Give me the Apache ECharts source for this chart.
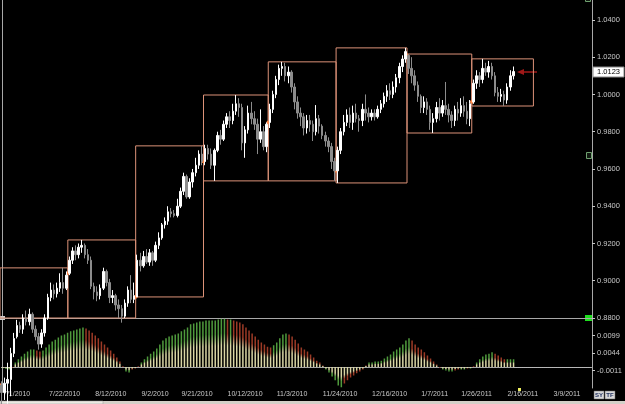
<!DOCTYPE html>
<html>
<head>
<meta charset="UTF-8">
<title>AUD/USD daily</title>
<script src="https://cdn.jsdelivr.net/npm/echarts/dist/echarts.min.js"></script>
<style>
  html, body { margin: 0; padding: 0; background: #000; }
  #chart { width: 625px; height: 404px; }
</style>
</head>
<body>
<div id="chart"></div>
<script>
// x categories: trading days (weekdays) 7/1/2010 .. 3/25/2011
const dates = [];
(function () {
  const d = new Date(2010, 6, 1);
  const end = new Date(2011, 2, 25);
  while (d <= end) {
    const wd = d.getDay();
    if (wd !== 0 && wd !== 6) dates.push((d.getMonth() + 1) + '/' + d.getDate() + '/' + d.getFullYear());
    d.setDate(d.getDate() + 1);
  }
})();

const tickLabels = ['7/1/2010', '7/22/2010', '8/12/2010', '9/2/2010', '9/21/2010', '10/12/2010',
  '11/3/2010', '11/24/2010', '12/16/2010', '1/7/2011', '1/26/2011', '2/16/2011', '3/9/2011'];

// monthly range boxes: first day of each month, last box ends at 2/28/2011
const monthStarts = ['7/1/2010', '8/2/2010', '9/1/2010', '10/1/2010', '11/1/2010', '12/1/2010', '1/3/2011', '2/1/2011'];
const lastBoxEnd = '2/28/2011';

// daily bars: [open, close, low, high]
const ohlc = [
  [0.8440,0.8400,0.8316,0.8460],[0.8400,0.8450,0.8360,0.8480],[0.8450,0.8470,0.8340,0.8560],[0.8470,0.8610,0.8380,0.8640],
  [0.8610,0.8690,0.8590,0.8720],[0.8700,0.8760,0.8690,0.8790],[0.8760,0.8740,0.8720,0.8780],[0.8740,0.8800,0.8715,0.8820],
  [0.8800,0.8780,0.8760,0.8840],[0.8780,0.8820,0.8760,0.8850],[0.8820,0.8740,0.8720,0.8830],[0.8740,0.8700,0.8680,0.8760],
  [0.8700,0.8660,0.8630,0.8720],[0.8660,0.8720,0.8640,0.8740],[0.8720,0.8800,0.8700,0.8820],[0.8800,0.8910,0.8790,0.8930],
  [0.8910,0.8950,0.8890,0.8990],[0.8950,0.8930,0.8900,0.8980],[0.8930,0.8960,0.8910,0.8990],[0.8960,0.8990,0.8940,0.9040],
  [0.8990,0.8960,0.8930,0.9069],[0.8960,0.9030,0.8950,0.9050],
  [0.9040,0.9110,0.9030,0.9130],[0.9110,0.9160,0.9090,0.9180],[0.9160,0.9140,0.9110,0.9190],[0.9140,0.9180,0.9120,0.9200],
  [0.9180,0.9190,0.9150,0.9219],[0.9190,0.9140,0.9120,0.9200],[0.9140,0.9110,0.9090,0.9170],[0.9110,0.8970,0.8955,0.9130],
  [0.8970,0.8940,0.8900,0.8990],[0.8940,0.8920,0.8890,0.8970],[0.8920,0.8960,0.8900,0.8980],[0.8960,0.9050,0.8950,0.9070],
  [0.9050,0.8990,0.8970,0.9060],[0.8990,0.8910,0.8880,0.9010],[0.8910,0.8920,0.8880,0.8950],[0.8920,0.8870,0.8840,0.8930],
  [0.8870,0.8850,0.8800,0.8900],[0.8850,0.8810,0.8775,0.8870],[0.8810,0.8880,0.8800,0.8900],[0.8880,0.8950,0.8860,0.8970],
  [0.8950,0.8900,0.8880,0.9030],[0.8900,0.8920,0.8880,0.8990],
  [0.8913,0.9110,0.8913,0.9140],[0.9110,0.9080,0.9050,0.9150],[0.9080,0.9130,0.9070,0.9160],[0.9130,0.9100,0.9090,0.9170],
  [0.9100,0.9150,0.9080,0.9170],[0.9150,0.9110,0.9080,0.9160],[0.9110,0.9190,0.9100,0.9210],[0.9190,0.9230,0.9170,0.9260],
  [0.9230,0.9300,0.9220,0.9310],[0.9300,0.9320,0.9280,0.9340],[0.9320,0.9370,0.9300,0.9400],[0.9370,0.9360,0.9340,0.9390],
  [0.9360,0.9350,0.9340,0.9380],[0.9350,0.9400,0.9340,0.9440],[0.9400,0.9480,0.9390,0.9500],[0.9480,0.9560,0.9460,0.9580],
  [0.9560,0.9450,0.9440,0.9570],[0.9450,0.9530,0.9440,0.9550],[0.9530,0.9580,0.9500,0.9600],[0.9580,0.9620,0.9560,0.9660],
  [0.9620,0.9680,0.9600,0.9700],[0.9680,0.9640,0.9620,0.9724],
  [0.9640,0.9710,0.9620,0.9730],[0.9710,0.9680,0.9650,0.9730],[0.9680,0.9620,0.9600,0.9710],[0.9620,0.9700,0.9536,0.9710],
  [0.9700,0.9780,0.9690,0.9800],[0.9780,0.9760,0.9730,0.9810],[0.9760,0.9840,0.9750,0.9860],[0.9840,0.9880,0.9820,0.9900],
  [0.9880,0.9860,0.9820,0.9910],[0.9860,0.9910,0.9840,0.9950],[0.9910,0.9950,0.9890,0.9997],[0.9950,0.9930,0.9880,0.9980],
  [0.9930,0.9740,0.9700,0.9950],[0.9740,0.9810,0.9660,0.9830],[0.9810,0.9900,0.9790,0.9940],[0.9900,0.9870,0.9840,0.9960],
  [0.9870,0.9840,0.9810,0.9910],[0.9840,0.9760,0.9680,0.9870],[0.9760,0.9800,0.9740,0.9920],[0.9800,0.9720,0.9700,0.9830],
  [0.9720,0.9840,0.9690,0.9850],
  [0.9850,0.9920,0.9820,0.9950],[0.9920,1.0000,0.9900,1.0020],[1.0000,1.0080,0.9980,1.0100],[1.0080,1.0140,1.0050,1.0160],
  [1.0140,1.0150,1.0100,1.0175],[1.0150,1.0100,1.0070,1.0170],[1.0100,1.0120,1.0060,1.0150],[1.0120,1.0040,1.0010,1.0130],
  [1.0040,0.9960,0.9920,1.0060],[0.9960,0.9900,0.9870,0.9990],[0.9900,0.9880,0.9830,0.9930],[0.9880,0.9820,0.9780,0.9900],
  [0.9820,0.9860,0.9790,0.9890],[0.9860,0.9840,0.9800,0.9890],[0.9840,0.9800,0.9750,0.9860],[0.9800,0.9870,0.9780,0.9943],
  [0.9870,0.9830,0.9790,0.9890],[0.9830,0.9780,0.9760,0.9840],[0.9780,0.9750,0.9720,0.9800],[0.9750,0.9720,0.9690,0.9770],
  [0.9720,0.9640,0.9600,0.9740],[0.9640,0.9590,0.9536,0.9660],
  [0.9590,0.9700,0.9525,0.9720],[0.9700,0.9800,0.9680,0.9820],[0.9800,0.9850,0.9780,0.9890],[0.9850,0.9890,0.9830,0.9920],
  [0.9890,0.9850,0.9820,0.9930],[0.9850,0.9900,0.9810,0.9940],[0.9900,0.9870,0.9850,0.9950],[0.9870,0.9860,0.9800,0.9890],
  [0.9860,0.9920,0.9830,0.9950],[0.9920,0.9900,0.9860,1.0000],[0.9900,0.9880,0.9850,0.9930],[0.9880,0.9900,0.9860,0.9920],
  [0.9900,0.9880,0.9860,0.9920],[0.9880,0.9920,0.9870,0.9940],[0.9920,0.9950,0.9900,0.9970],[0.9950,0.9990,0.9930,1.0010],
  [0.9990,1.0020,0.9960,1.0050],[1.0020,1.0000,0.9970,1.0060],[1.0000,1.0040,0.9980,1.0070],[1.0040,1.0090,1.0010,1.0110],
  [1.0090,1.0150,1.0060,1.0170],[1.0150,1.0190,1.0120,1.0210],[1.0190,1.0230,1.0170,1.0250],
  [1.0210,1.0140,1.0110,1.0217],[1.0140,1.0100,1.0060,1.0200],[1.0100,1.0050,1.0020,1.0130],[1.0050,0.9990,0.9960,1.0070],
  [0.9990,0.9930,0.9900,1.0000],[0.9930,0.9960,0.9900,0.9990],[0.9960,0.9920,0.9890,0.9980],[0.9920,0.9850,0.9810,0.9940],
  [0.9850,0.9870,0.9793,0.9900],[0.9870,0.9930,0.9850,0.9960],[0.9930,0.9900,0.9860,0.9980],[0.9900,0.9940,0.9880,0.9970],
  [0.9940,0.9920,0.9890,1.0067],[0.9920,0.9890,0.9850,0.9950],[0.9890,0.9860,0.9820,0.9910],[0.9860,0.9920,0.9830,0.9940],
  [0.9920,0.9900,0.9860,0.9960],[0.9900,0.9940,0.9880,0.9980],[0.9940,0.9910,0.9880,0.9990],[0.9910,0.9870,0.9840,0.9960],
  [0.9870,0.9950,0.9830,0.9970],
  [0.9960,1.0060,0.9950,1.0080],[1.0060,1.0100,1.0030,1.0130],[1.0100,1.0080,1.0040,1.0120],[1.0080,1.0140,1.0060,1.0191],
  [1.0140,1.0120,1.0100,1.0170],[1.0120,1.0150,1.0090,1.0180],[1.0150,1.0100,1.0080,1.0170],[1.0100,1.0010,0.9990,1.0120],
  [1.0010,0.9990,0.9960,1.0040],[0.9990,1.0000,0.9960,1.0030],[1.0000,0.9970,0.9938,1.0020],[0.9970,1.0040,0.9950,1.0060],
  [1.0040,1.0100,1.0020,1.0130],[1.0100,1.0123,1.0080,1.0150]
];

// oscillator histogram (lower panel)
const hist = [
  -0.0004,-0.0006,-0.0008,-0.0002,0.0014,0.0024,0.0033,0.0042,0.0049,0.0055,0.0055,0.0052,0.0049,0.0052,0.0061,0.0071,
  0.0080,0.0086,0.0093,0.0099,0.0102,0.0108,0.0112,0.0115,0.0118,0.0121,0.0124,0.0121,0.0115,0.0108,0.0099,0.0090,
  0.0080,0.0071,0.0061,0.0052,0.0042,0.0030,0.0017,0.0002,-0.0014,-0.0017,-0.0008,-0.0005,0.0002,0.0014,0.0024,0.0033,
  0.0042,0.0049,0.0058,0.0071,0.0083,0.0090,0.0096,0.0099,0.0102,0.0105,0.0112,0.0118,0.0124,0.0134,0.0137,0.0140,
  0.0143,0.0143,0.0146,0.0146,0.0146,0.0146,0.0149,0.0152,0.0152,0.0149,0.0149,0.0146,0.0143,0.0140,0.0134,0.0124,
  0.0115,0.0105,0.0096,0.0086,0.0077,0.0071,0.0064,0.0061,0.0068,0.0077,0.0090,0.0102,0.0105,0.0102,0.0096,0.0086,
  0.0074,0.0061,0.0055,0.0049,0.0039,0.0030,0.0020,0.0014,0.0005,-0.0008,-0.0017,-0.0030,-0.0042,-0.0058,-0.0064,-0.0052,
  -0.0042,-0.0033,-0.0027,-0.0020,-0.0014,-0.0008,0.0005,0.0014,0.0014,0.0017,0.0017,0.0020,0.0027,0.0033,0.0039,0.0049,
  0.0055,0.0061,0.0071,0.0083,0.0090,0.0083,0.0071,0.0061,0.0055,0.0046,0.0036,0.0027,0.0017,0.0008,-0.0002,-0.0008,
  -0.0011,-0.0014,-0.0014,-0.0011,-0.0008,-0.0008,-0.0008,-0.0005,-0.0005,0.0002,0.0014,0.0024,0.0033,0.0039,0.0042,0.0046,
  0.0042,0.0036,0.0030,0.0024,0.0024,0.0024,0.0024
];

// build month boxes from the bars: [startIdx, endIdx, low, high, open]
const boxes = monthStarts.map(function (m, k) {
  const s = dates.indexOf(m);
  const e = k < monthStarts.length - 1 ? dates.indexOf(monthStarts[k + 1]) - 1 : dates.indexOf(lastBoxEnd);
  let lo = Infinity, hi = -Infinity;
  for (let i = s; i <= Math.min(e, ohlc.length - 1); i++) {
    lo = Math.min(lo, ohlc[i][2]);
    hi = Math.max(hi, ohlc[i][3]);
  }
  return [s, e, lo, hi, ohlc[s][0]];
});

const gridL = -4, gridR = 33;
const axisGray = '#a8a8a8';
const labelGray = '#c8c8c8';
const font = 'Liberation Sans';
const cream = '#d9d5a4';

const chart = echarts.init(document.getElementById('chart'));

chart.setOption({
  backgroundColor: '#000',
  animation: false,
  grid: [
    { left: gridL, right: gridR, top: 0, height: 318 },
    { left: gridL, right: gridR, top: 318, height: 70 }
  ],
  xAxis: [
    {
      type: 'category', gridIndex: 0, data: dates, boundaryGap: true,
      axisLine: { lineStyle: { color: axisGray } }, axisTick: { show: false }, axisLabel: { show: false }
    },
    {
      type: 'category', gridIndex: 1, data: dates, boundaryGap: true,
      axisLine: { lineStyle: { color: axisGray } }, axisTick: { show: false },
      axisLabel: {
        interval: function (idx, val) { return tickLabels.indexOf(val) >= 0; },
        align: 'left', margin: 3, color: labelGray, fontSize: 7, fontFamily: font
      }
    }
  ],
  yAxis: [
    {
      type: 'value', gridIndex: 0, position: 'right', min: 0.88, max: 1.0507, interval: 0.02,
      splitLine: { show: false },
      axisLine: { show: true, lineStyle: { color: axisGray } },
      axisTick: { show: true, length: 3, lineStyle: { color: labelGray } },
      axisLabel: {
        showMaxLabel: false, margin: 5, color: labelGray, fontSize: 7.5, fontFamily: font,
        formatter: function (v) { return v.toFixed(4); }
      }
    },
    {
      type: 'value', gridIndex: 1, position: 'right', min: -0.0066, max: 0.0154, interval: 0.0055,
      splitLine: { show: false },
      axisLine: { show: true, lineStyle: { color: axisGray } },
      axisTick: { show: true, length: 3, lineStyle: { color: labelGray } },
      axisLabel: {
        showMinLabel: false, showMaxLabel: false, margin: 5, color: labelGray, fontSize: 7.5, fontFamily: font,
        formatter: function (v) { return v.toFixed(4); }
      }
    }
  ],
  series: [
    {
      // monthly high/low boxes with open marker
      type: 'custom', xAxisIndex: 0, yAxisIndex: 0, z: 1, silent: true,
      data: boxes,
      encode: { x: [0, 1], y: [2, 3] },
      renderItem: function (params, api) {
        const band = api.size([1, 0])[0];
        const tl = api.coord([api.value(0), api.value(3)]);
        const br = api.coord([api.value(1), api.value(2)]);
        const op = api.coord([api.value(0), api.value(4)]);
        const left = tl[0] - band / 2, right = br[0] + band / 2;
        const cs = params.coordSys;
        const rect = echarts.graphic.clipRectByRect(
          { x: left, y: tl[1], width: right - left, height: br[1] - tl[1] },
          { x: cs.x, y: cs.y, width: cs.width, height: cs.height });
        if (!rect) return;
        return {
          type: 'group',
          children: [
            { type: 'rect', shape: rect, style: { fill: 'none', stroke: '#dc9278', lineWidth: 1 } },
            { type: 'circle', shape: { cx: left, cy: op[1], r: 1.8 }, style: { fill: '#ff8a4c' } }
          ]
        };
      }
    },
    {
      type: 'candlestick', xAxisIndex: 0, yAxisIndex: 0, z: 3, clip: false,
      data: ohlc.map(function (r) { return [r[0], r[1], r[2], r[3]]; }),
      barWidth: 2,
      itemStyle: { color: '#ffffff', color0: '#8c8c8c', borderColor: '#ffffff', borderColor0: '#8c8c8c', borderWidth: 1 }
    },
    {
      type: 'bar', xAxisIndex: 1, yAxisIndex: 1, barWidth: 1.5,
      data: hist,
      itemStyle: {
        color: function (p) {
          const i = p.dataIndex;
          const v = hist[i];
          const prev = i > 0 ? hist[i - 1] : 0;
          const tip = Math.abs(v) >= Math.abs(prev) ? '#4f9a3c' : '#9c3a26';
          const up = v >= 0;
          return new echarts.graphic.LinearGradient(0, up ? 0 : 1, 0, up ? 1 : 0, [
            { offset: 0, color: tip }, { offset: 0.3, color: tip },
            { offset: 0.55, color: cream }, { offset: 1, color: cream }
          ]);
        }
      },
      markLine: {
        silent: true, symbol: 'none', label: { show: false },
        lineStyle: { color: '#c8c8c8', type: 'dotted', width: 1 },
        data: [[{ coord: [hist.length - 1, 0] }, { coord: [dates.length - 1, 0] }]]
      }
    }
  ]
});

// overlays: last price tag, arrow, small chrome pieces
const lastClose = ohlc[ohlc.length - 1][1];
const py = Math.round(chart.convertToPixel({ xAxisIndex: 0, yAxisIndex: 0 }, [ohlc.length - 1, lastClose])[1]);

chart.setOption({
  graphic: [
    { type: 'text', left: 3, top: -7, style: { text: 'AUDUSD FX Spot(Daily)   O:1.0100 H:1.0150 L:1.0080', fill: '#8a8a8a', font: '7px "Liberation Sans"' } },
    { type: 'line', shape: { x1: 2.5, y1: 0, x2: 2.5, y2: 388 }, style: { stroke: axisGray, lineWidth: 1 } },
    { type: 'rect', shape: { x: 0, y: 316, width: 5, height: 4 }, style: { fill: '#d0d0d0' } },
    { type: 'rect', shape: { x: 585, y: 315, width: 7, height: 6 }, style: { fill: '#1ee01e' } },
    { type: 'rect', shape: { x: 586.5, y: 152.5, width: 5, height: 6 }, style: { fill: '#101810', stroke: '#6fa06f', lineWidth: 1 } },
    { type: 'rect', shape: { x: 585.5, y: -3.5, width: 5, height: 5 }, style: { fill: '#101810', stroke: '#6fa06f', lineWidth: 1 } },
    { type: 'rect', shape: { x: 593, y: py - 5, width: 31, height: 10 }, style: { fill: '#ffffff', stroke: '#8a8a8a', lineWidth: 1 } },
    { type: 'text', x: 608.5, y: py, style: { text: lastClose.toFixed(4), fill: '#000', font: '7.5px "Liberation Sans"', textAlign: 'center', textVerticalAlign: 'middle' } },
    { type: 'line', shape: { x1: 521, y1: py, x2: 537, y2: py }, style: { stroke: '#a01818', lineWidth: 1.5 } },
    { type: 'polygon', shape: { points: [[517, py], [524, py - 3], [524, py + 3]] }, style: { fill: '#a01818' } },
    { type: 'rect', shape: { x: 518, y: 388, width: 3, height: 3 }, style: { fill: '#f0f060' } },
    { type: 'rect', shape: { x: 594, y: 391, width: 10, height: 8 }, style: { fill: '#d8d8d8', stroke: '#606060', lineWidth: 0.5 } },
    { type: 'text', x: 599, y: 395, style: { text: 'SY', fill: '#203060', font: 'bold 6px "Liberation Sans"', textAlign: 'center', textVerticalAlign: 'middle' } },
    { type: 'rect', shape: { x: 605, y: 391, width: 10, height: 8 }, style: { fill: '#d8d8d8', stroke: '#606060', lineWidth: 0.5 } },
    { type: 'text', x: 610, y: 395, style: { text: 'TF', fill: '#203060', font: 'bold 6px "Liberation Sans"', textAlign: 'center', textVerticalAlign: 'middle' } },
    { type: 'rect', shape: { x: 0, y: 401, width: 625, height: 3 }, style: { fill: '#d4d0c8' } },
    { type: 'rect', shape: { x: 0, y: 401, width: 103, height: 3 }, style: { fill: '#ece9e2', stroke: '#9a9a9a', lineWidth: 0.5 } }
  ]
});
</script>
</body>
</html>
